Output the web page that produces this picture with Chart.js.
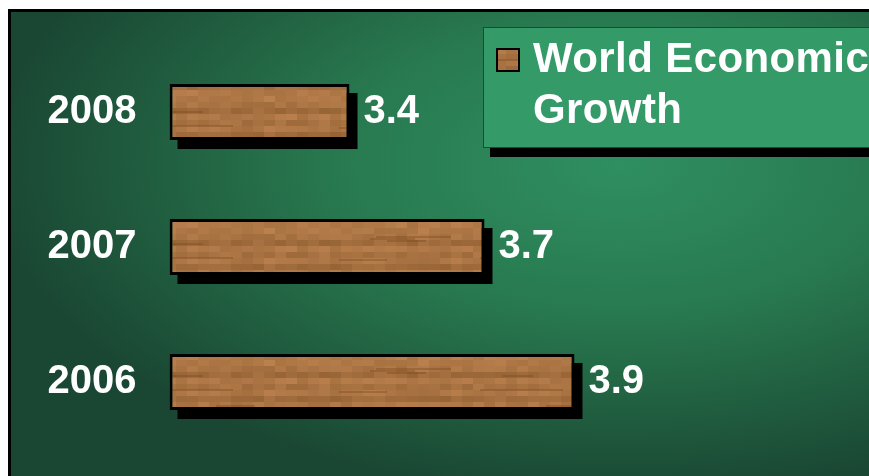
<!DOCTYPE html>
<html>
<head>
<meta charset="utf-8">
<script src="https://cdn.jsdelivr.net/npm/chart.js@4/dist/chart.umd.min.js"></script>
<style>
    body { margin: 0; background: #ffffff; }
    canvas { display: block; }
</style>
</head>
<body>
<canvas id="growthChart" width="869" height="476"></canvas>
<script>
var years = ['2008', '2007', '2006'];
var growth = [3.4, 3.7, 3.9];
var seriesName = ['World Economic', 'Growth'];
var axisMin = 3;
var axisMax = 4.5;

var FONT = '"Liberation Sans", Arial, sans-serif';

// Blocky wood-grain fill used for the bars and the legend swatch
function makeWoodPattern() {
    var c = document.createElement('canvas');
    c.width = 330;
    c.height = 66;
    var g = c.getContext('2d');
    function hash(i, j) {
        var s = Math.sin(i * 127.1 + j * 311.7) * 43758.5453;
        return s - Math.floor(s);
    }
    // each grain row has its own tone, blocks vary a little around it
    for (var j = 0; j < 11; j++) {
        var rowTone = hash(j, 7) * 0.6 - 0.3;
        for (var i = 0; i < 30; i++) {
            var t = rowTone + (hash(i, j) - 0.5) * 0.45;
            var r = Math.round(166 + t * 40);
            var gr = Math.round(112 + t * 32);
            var b = Math.round(64 + t * 28);
            g.fillStyle = 'rgb(' + r + ',' + gr + ',' + b + ')';
            g.fillRect(i * 11, j * 6, 11, 6);
        }
    }
    // thin darker grain streaks
    g.fillStyle = 'rgba(120,70,25,0.35)';
    for (var s = 0; s < 9; s++) {
        var y = Math.floor(hash(s, 99) * 64);
        var x = Math.floor(hash(99, s) * 250);
        g.fillRect(x, y, 30 + Math.floor(hash(s, s) * 90), 2);
    }
    return g.createPattern(c, 'repeat');
}

var ctx = document.getElementById('growthChart').getContext('2d');
var wood = makeWoodPattern();

var backdrop = {
    id: 'backdrop',
    beforeDraw: function (chart) {
        var c = chart.ctx;
        var w = chart.width, h = chart.height;
        c.save();
        c.fillStyle = '#ffffff';
        c.fillRect(0, 0, w, h);
        // elliptical green glow inside the frame
        c.save();
        c.beginPath();
        c.rect(11, 12, w, h);
        c.clip();
        c.translate(620, 165);
        c.scale(1.9, 1);
        var grad = c.createRadialGradient(0, 0, 0, 0, 0, 330);
        grad.addColorStop(0, '#2f8f61');
        grad.addColorStop(0.45, '#28794f');
        grad.addColorStop(1, '#1a4733');
        c.fillStyle = grad;
        c.fillRect(-1000, -1000, 2000, 2000);
        c.restore();
        // frame
        c.fillStyle = '#000000';
        c.fillRect(8, 9, w, 3);
        c.fillRect(8, 9, 3, h);
        c.restore();
    }
};

var barDecor = {
    id: 'barDecor',
    beforeDatasetsDraw: function (chart) {
        // hard drop shadow behind each bar
        var c = chart.ctx;
        c.save();
        c.fillStyle = '#000000';
        chart.getDatasetMeta(0).data.forEach(function (bar) {
            var p = bar.getProps(['x', 'y', 'base', 'height'], true);
            c.fillRect(p.base + 8, p.y - p.height / 2 + 9, p.x - p.base, p.height);
        });
        c.restore();
    },
    afterDatasetsDraw: function (chart) {
        var c = chart.ctx;
        c.save();
        c.fillStyle = '#ffffff';
        c.font = 'bold 40px ' + FONT;
        c.textAlign = 'left';
        c.textBaseline = 'middle';
        chart.getDatasetMeta(0).data.forEach(function (bar, i) {
            c.fillText(String(growth[i]), bar.x + 14, bar.y);
        });
        c.restore();
    }
};

var legendBox = {
    id: 'legendBox',
    afterDraw: function (chart) {
        var c = chart.ctx;
        c.save();
        c.fillStyle = '#000000';
        c.fillRect(490, 37, 400, 120);
        c.fillStyle = '#349a68';
        c.fillRect(483, 27, 400, 120);
        c.strokeStyle = '#1d4a34';
        c.lineWidth = 1;
        c.strokeRect(483.5, 27.5, 400, 120);
        // swatch
        c.fillStyle = '#000000';
        c.fillRect(496, 48, 24, 24);
        c.fillStyle = wood;
        c.fillRect(498, 50, 20, 20);
        c.fillStyle = '#ffffff';
        c.font = 'bold 42px ' + FONT;
        c.letterSpacing = '0.4px';
        c.textAlign = 'left';
        c.textBaseline = 'alphabetic';
        c.fillText(seriesName[0], 533, 72);
        c.fillText(seriesName[1], 533, 123);
        c.restore();
    }
};

new Chart(ctx, {
    type: 'bar',
    data: {
        labels: years,
        datasets: [{
            label: seriesName.join(' '),
            data: growth,
            base: axisMin,
            backgroundColor: wood,
            borderColor: '#000000',
            borderWidth: 3,
            borderSkipped: false,
            barPercentage: 0.415,
            categoryPercentage: 1
        }]
    },
    options: {
        indexAxis: 'y',
        responsive: false,
        animation: false,
        layout: {
            padding: { top: 44.5, bottom: 26.5, left: 0, right: 24.5 }
        },
        scales: {
            x: {
                display: false,
                min: axisMin,
                max: axisMax
            },
            y: {
                grid: { display: false, drawTicks: false },
                border: { display: false },
                ticks: {
                    color: '#ffffff',
                    padding: 33,
                    font: { family: FONT, size: 40, weight: 'bold' }
                },
                afterFit: function (scale) {
                    scale.width = 169.5;
                    // the big tick padding should not push the plot area in
                    scale.paddingTop = 0;
                    scale.paddingBottom = 0;
                }
            }
        },
        plugins: {
            legend: { display: false },
            tooltip: { enabled: false }
        }
    },
    plugins: [backdrop, barDecor, legendBox]
});
</script>
</body>
</html>
